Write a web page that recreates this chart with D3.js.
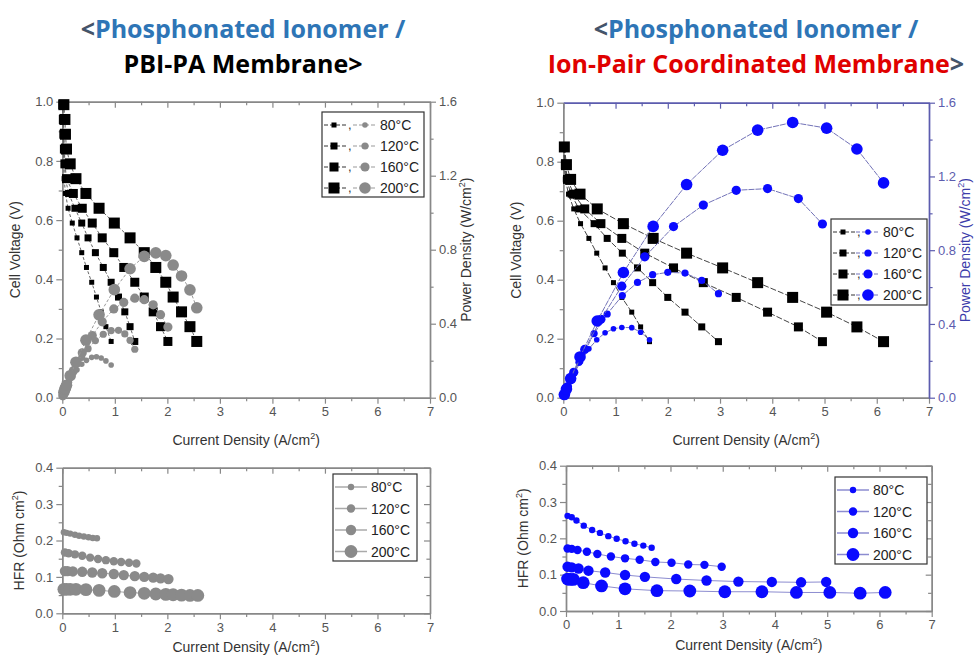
<!DOCTYPE html>
<html>
<head>
<meta charset="utf-8">
<script src="https://cdn.jsdelivr.net/npm/d3@7"></script>
<style>
  body { margin: 0; background: #fff; }
  svg { display: block; font-family: "Liberation Sans", Arial, sans-serif; }
</style>
</head>
<body>
<svg id="chart" width="975" height="655"></svg>
<script>
// ---- data ----
var temps = ['80°C', '120°C', '160°C', '200°C'];

// PBI-PA membrane, polarisation + power density
var pbiV = [0.99, 0.94, 0.89, 0.84, 0.79, 0.74, 0.69, 0.64, 0.59, 0.54, 0.49, 0.44, 0.39, 0.34, 0.29, 0.24, 0.19];
var pbiI80 = [0.005, 0.01, 0.015, 0.02, 0.025, 0.035, 0.06, 0.11, 0.19, 0.28, 0.37, 0.46, 0.56, 0.65, 0.74, 0.83, 0.93];
var pbiI120 = [0.008, 0.015, 0.02, 0.03, 0.04, 0.06, 0.12, 0.24, 0.37, 0.49, 0.63, 0.78, 0.93, 1.07, 1.19, 1.29, 1.38];
var pbiI160 = [0.01, 0.02, 0.03, 0.04, 0.05, 0.08, 0.21, 0.38, 0.57, 0.76, 0.98, 1.17, 1.38, 1.56, 1.73, 1.87, 2.01];
var pbiI200 = [0.03, 0.05, 0.06, 0.08, 0.15, 0.26, 0.45, 0.70, 0.99, 1.29, 1.56, 1.78, 1.97, 2.11, 2.27, 2.43, 2.56];
var pbiP80 = [0.005, 0.009, 0.013, 0.017, 0.020, 0.026, 0.041, 0.070, 0.112, 0.151, 0.181, 0.202, 0.218, 0.221, 0.215, 0.199, 0.177];
var pbiP120 = [0.008, 0.014, 0.018, 0.025, 0.032, 0.044, 0.083, 0.154, 0.218, 0.265, 0.309, 0.343, 0.363, 0.364, 0.345, 0.310, 0.262];
var pbiP160 = [0.010, 0.019, 0.027, 0.034, 0.040, 0.059, 0.145, 0.243, 0.336, 0.410, 0.480, 0.515, 0.538, 0.530, 0.502, 0.449, 0.382];
var pbiP200 = [0.030, 0.047, 0.053, 0.067, 0.119, 0.192, 0.311, 0.448, 0.584, 0.697, 0.764, 0.783, 0.768, 0.717, 0.658, 0.583, 0.486];

// ion-pair coordinated membrane
var ipV = [0.85, 0.79, 0.74, 0.69, 0.64, 0.59, 0.54, 0.49, 0.44, 0.39, 0.34, 0.29, 0.24, 0.19];
var ipI80 = [0.01, 0.02, 0.04, 0.1, 0.2, 0.33, 0.49, 0.64, 0.8, 0.96, 1.12, 1.31, 1.48, 1.65];
var ipI120 = [0.01, 0.03, 0.06, 0.15, 0.3, 0.59, 0.84, 1.13, 1.42, 1.71, 2.0, 2.33, 2.65, 2.97];
var ipI160 = [0.02, 0.04, 0.08, 0.2, 0.41, 0.72, 1.12, 1.56, 2.11, 2.68, 3.31, 3.91, 4.5, 4.96];
var ipI200 = [0.02, 0.06, 0.14, 0.32, 0.65, 1.15, 1.72, 2.36, 3.05, 3.72, 4.39, 5.04, 5.62, 6.13];
var ipP80 = [0.009, 0.016, 0.030, 0.069, 0.128, 0.195, 0.265, 0.314, 0.352, 0.374, 0.381, 0.380, 0.355, 0.314];
var ipP120 = [0.009, 0.024, 0.044, 0.104, 0.192, 0.348, 0.454, 0.554, 0.625, 0.667, 0.680, 0.676, 0.636, 0.564];
var ipP160 = [0.017, 0.032, 0.059, 0.138, 0.262, 0.425, 0.605, 0.764, 0.928, 1.045, 1.125, 1.134, 1.080, 0.942];
var ipP200 = [0.017, 0.047, 0.104, 0.221, 0.416, 0.679, 0.929, 1.156, 1.342, 1.451, 1.493, 1.462, 1.349, 1.165];

// HFR
var pbiHfrI80 = [0.03, 0.08, 0.15, 0.24, 0.32, 0.41, 0.5, 0.58, 0.66];
var pbiHfr80 = [0.223, 0.221, 0.219, 0.216, 0.213, 0.211, 0.209, 0.207, 0.206];
var pbiHfrI120 = [0.05, 0.12, 0.24, 0.38, 0.53, 0.68, 0.83, 0.98, 1.12, 1.27, 1.41];
var pbiHfr120 = [0.167, 0.165, 0.162, 0.158, 0.153, 0.149, 0.146, 0.143, 0.141, 0.139, 0.137];
var pbiHfrI160 = [0.05, 0.1, 0.2, 0.38, 0.57, 0.76, 0.98, 1.17, 1.38, 1.56, 1.73, 1.87, 2.02];
var pbiHfr160 = [0.116, 0.116, 0.115, 0.114, 0.112, 0.110, 0.108, 0.105, 0.102, 0.100, 0.098, 0.096, 0.094];
var pbiHfrI200 = [0.03, 0.08, 0.15, 0.26, 0.45, 0.70, 0.99, 1.29, 1.56, 1.78, 1.97, 2.11, 2.27, 2.43, 2.58];
var pbiHfr200 = [0.066, 0.066, 0.066, 0.066, 0.065, 0.063, 0.060, 0.057, 0.055, 0.053, 0.052, 0.051, 0.050, 0.049, 0.049];

var ipHfrI80 = [0.03, 0.11, 0.2, 0.34, 0.5, 0.65, 0.81, 0.97, 1.14, 1.31, 1.48, 1.64];
var ipHfr80 = [0.262, 0.258, 0.249, 0.235, 0.223, 0.215, 0.206, 0.199, 0.192, 0.185, 0.180, 0.174];
var ipHfrI120 = [0.03, 0.11, 0.22, 0.40, 0.60, 0.86, 1.13, 1.41, 1.71, 2.02, 2.34, 2.65, 2.98];
var ipHfr120 = [0.172, 0.171, 0.168, 0.163, 0.157, 0.150, 0.145, 0.141, 0.135, 0.133, 0.128, 0.127, 0.122];
var ipHfrI160 = [0.03, 0.11, 0.24, 0.43, 0.75, 1.13, 1.51, 2.11, 2.69, 3.3, 3.94, 4.5, 4.98];
var ipHfr160 = [0.122, 0.120, 0.117, 0.111, 0.106, 0.099, 0.094, 0.088, 0.084, 0.081, 0.080, 0.079, 0.080];
var ipHfrI200 = [0.03, 0.08, 0.14, 0.33, 0.68, 1.13, 1.74, 2.37, 3.04, 3.75, 4.41, 5.05, 5.63, 6.11];
var ipHfr200 = [0.088, 0.087, 0.087, 0.078, 0.069, 0.061, 0.056, 0.055, 0.053, 0.053, 0.051, 0.051, 0.049, 0.051];

var xTicks = [0, 1, 2, 3, 4, 5, 6, 7];
var xMinor = [0.5, 1.5, 2.5, 3.5, 4.5, 5.5, 6.5];
var vTicks = [0, 0.2, 0.4, 0.6, 0.8, 1.0];
var vMinor = [0.1, 0.3, 0.5, 0.7, 0.9];
var pTicks = [0, 0.4, 0.8, 1.2, 1.6];
var pMinor = [0.2, 0.6, 1.0, 1.4];
var hTicks = [0, 0.1, 0.2, 0.3, 0.4];
var hMinor = [0.05, 0.15, 0.25, 0.35];

var svg = d3.select('#chart');
var sqSize = [5, 7, 9, 11];
var cirR = [2.8, 3.6, 4.6, 5.8];
var hfrR = [3.2, 4.2, 5.2, 6.4];
var f1 = d3.format('.1f');

function zip(xs, ys) {
  return xs.map(function(d, i) { return [d, ys[i]]; });
}

function axis(g, gen, tx, ty, major, minor, fmt, size, color) {
  var a = g.append('g').attr('transform', 'translate(' + tx + ',' + ty + ')')
    .call(gen.tickValues(major).tickSize(size).tickSizeOuter(0).tickFormat(fmt || ''));
  var b = g.append('g').attr('transform', 'translate(' + tx + ',' + ty + ')')
    .call(gen.tickValues(minor).tickSize(size * 0.6).tickSizeOuter(0).tickFormat(''));
  [a, b].forEach(function(s) {
    s.select('.domain').attr('stroke', color).attr('stroke-width', 1.4);
    s.selectAll('.tick line').attr('stroke', color).attr('stroke-width', 1.2);
    s.selectAll('.tick text').attr('fill', color === '#888' ? '#555' : color)
      .attr('font-size', 13).attr('font-family', '"Liberation Sans", Arial, sans-serif');
  });
  return a;
}

function axisTitle(g, x, y, rot, text, sup, after, color) {
  var t = g.append('text').attr('transform', 'translate(' + x + ',' + y + ')' + (rot ? ' rotate(-90)' : ''))
    .attr('text-anchor', 'middle').attr('font-size', 14).attr('fill', color || '#333');
  t.append('tspan').text(text);
  t.append('tspan').attr('font-size', 9).attr('dy', -6).text(sup);
  t.append('tspan').attr('dy', 6).text(after);
}

function squares(g, pts, size, line) {
  g.append('path').datum(pts).attr('fill', 'none').attr('stroke', line.color)
    .attr('stroke-width', 1).attr('stroke-dasharray', line.dash)
    .attr('d', d3.line().x(function(d) { return line.x(d[0]); }).y(function(d) { return line.y(d[1]); }));
  g.selectAll(null).data(pts).enter().append('rect')
    .attr('x', function(d) { return line.x(d[0]) - size / 2; })
    .attr('y', function(d) { return line.y(d[1]) - size / 2; })
    .attr('width', size).attr('height', size).attr('fill', '#000');
}

function circles(g, pts, r, line) {
  g.append('path').datum(pts).attr('fill', 'none').attr('stroke', line.color)
    .attr('stroke-width', 1).attr('stroke-dasharray', line.dash)
    .attr('d', d3.line().x(function(d) { return line.x(d[0]); }).y(function(d) { return line.y(d[1]); }));
  g.selectAll(null).data(pts).enter().append('circle')
    .attr('cx', function(d) { return line.x(d[0]); })
    .attr('cy', function(d) { return line.y(d[1]); })
    .attr('r', r).attr('fill', line.fill);
}

function polar(o) {
  var g = svg.append('g');
  var x = d3.scaleLinear().domain([0, 7]).range([o.left, o.right]);
  var y = d3.scaleLinear().domain([0, 1]).range([o.bottom, o.top]);
  var y2 = d3.scaleLinear().domain([0, 1.6]).range([o.bottom, o.top]);

  axis(g, d3.axisBottom(x), 0, o.bottom, xTicks, xMinor, d3.format('d'), 6, '#888');
  axis(g, d3.axisTop(x), 0, o.top, xTicks, xMinor, null, -6, o.axis2);
  axis(g, d3.axisLeft(y), o.left, 0, vTicks, vMinor, f1, 6, '#888');
  axis(g, d3.axisRight(y2), o.right, 0, pTicks, pMinor, f1, 6, o.axis2);

  var plot = g.append('g');
  o.curr.forEach(function(I, k) {
    squares(plot, zip(I, o.volt), sqSize[k], { x: x, y: y, color: o.vLine, dash: o.vDash });
  });
  o.curr.forEach(function(I, k) {
    circles(plot, zip(I, o.pow[k]), cirR[k], { x: x, y: y2, color: o.pLine, dash: o.pDash, fill: o.pFill });
  });

  axisTitle(g, o.left - 42, (o.top + o.bottom) / 2, true, 'Cell Voltage (V)', '', '');
  axisTitle(g, (o.left + o.right) / 2, o.bottom + 47, false, 'Current Density (A/cm', '2', ')');
  axisTitle(g, o.right + 41, (o.top + o.bottom) / 2, true, 'Power Density (W/cm', '2', ')', o.title2);

  // legend
  var L = o.legend;
  g.append('rect').attr('x', L.x).attr('y', L.y).attr('width', L.w).attr('height', L.h)
    .attr('fill', '#fff').attr('stroke', '#333').attr('stroke-width', 1.2);
  temps.forEach(function(t, k) {
    var yy = L.y + 13 + k * 21;
    var r = g.append('g').attr('transform', 'translate(' + L.x + ',' + yy + ')');
    r.append('line').attr('x1', 2).attr('x2', 24).attr('stroke', '#333').attr('stroke-dasharray', '4,2');
    r.append('rect').attr('x', 12 - sqSize[k] / 2).attr('y', -sqSize[k] / 2)
      .attr('width', sqSize[k]).attr('height', sqSize[k]).attr('fill', '#000');
    r.append('text').attr('x', 26).attr('y', 4).attr('font-size', 13).attr('fill', '#333').text(',');
    r.append('line').attr('x1', L.c0).attr('x2', L.c0 + 24).attr('stroke', o.pLine).attr('stroke-dasharray', '4,2');
    r.append('circle').attr('cx', L.c0 + 12).attr('r', cirR[k]).attr('fill', o.pFill);
    r.append('text').attr('x', L.tx).attr('y', 5).attr('font-size', 14).attr('fill', '#222').text(t);
  });
}

function hfr(o) {
  var g = svg.append('g');
  var x = d3.scaleLinear().domain([0, 7]).range([o.left, o.right]);
  var y = d3.scaleLinear().domain([0, 0.4]).range([o.bottom, o.top]);

  axis(g, d3.axisBottom(x), 0, o.bottom, xTicks, xMinor, d3.format('d'), 6, '#888');
  axis(g, d3.axisTop(x), 0, o.top, xTicks, xMinor, null, -6, '#888');
  axis(g, d3.axisLeft(y), o.left, 0, hTicks, hMinor, f1, 6, '#888');
  axis(g, d3.axisRight(y), o.right, 0, hTicks, hMinor, null, -6, '#888');

  var plot = g.append('g');
  o.curr.forEach(function(I, k) {
    circles(plot, zip(I, o.vals[k]), hfrR[k], { x: x, y: y, color: o.line, dash: null, fill: o.fill });
  });

  axisTitle(g, o.left - 38, (o.top + o.bottom) / 2, true, 'HFR (Ohm cm', '2', ')');
  axisTitle(g, (o.left + o.right) / 2, o.bottom + 39, false, 'Current Density (A/cm', '2', ')');

  var L = o.legend;
  g.append('rect').attr('x', L.x).attr('y', L.y).attr('width', L.w).attr('height', L.h)
    .attr('fill', '#fff').attr('stroke', '#333').attr('stroke-width', 1.2);
  temps.forEach(function(t, k) {
    var yy = L.y + 13 + k * 21.5;
    var r = g.append('g').attr('transform', 'translate(' + L.x + ',' + yy + ')');
    r.append('line').attr('x1', 2).attr('x2', 34).attr('stroke', o.line).attr('stroke-width', 1.5);
    r.append('circle').attr('cx', 18).attr('r', hfrR[k]).attr('fill', o.fill);
    r.append('text').attr('x', L.tx).attr('y', 5).attr('font-size', 14).attr('fill', '#222').text(t);
  });
}

polar({
  left: 62.3, right: 430, top: 101.7, bottom: 397.7,
  volt: pbiV, curr: [pbiI80, pbiI120, pbiI160, pbiI200], pow: [pbiP80, pbiP120, pbiP160, pbiP200],
  vLine: '#666', vDash: '3,2', pLine: '#999', pDash: '3,2', pFill: '#8a8a8a',
  axis2: '#888', title2: '#333',
  legend: { x: 322, y: 112, w: 102, h: 85, c0: 31, tx: 58 }
});

polar({
  left: 563.3, right: 929, top: 102.7, bottom: 397.7,
  volt: ipV, curr: [ipI80, ipI120, ipI160, ipI200], pow: [ipP80, ipP120, ipP160, ipP200],
  vLine: '#444', vDash: '6,2', pLine: '#7373b8', pDash: '6,1', pFill: '#0a0aff',
  axis2: '#5c5cae', title2: '#3c3caa',
  legend: { x: 831, y: 219, w: 96, h: 86, c0: 25, tx: 52 }
});

hfr({
  left: 62.3, right: 430, top: 467.7, bottom: 613.3,
  curr: [pbiHfrI80, pbiHfrI120, pbiHfrI160, pbiHfrI200], vals: [pbiHfr80, pbiHfr120, pbiHfr160, pbiHfr200],
  line: '#aaa', fill: '#8a8a8a',
  legend: { x: 333, y: 474, w: 84, h: 87, tx: 38 }
});

hfr({
  left: 566, right: 931.7, top: 465.7, bottom: 611,
  curr: [ipHfrI80, ipHfrI120, ipHfrI160, ipHfrI200], vals: [ipHfr80, ipHfr120, ipHfr160, ipHfr200],
  line: '#8c8cd0', fill: '#0a0aff',
  legend: { x: 835, y: 477, w: 92, h: 87, tx: 38 }
});

// titles
var titles = [
  { cx: 243, l1: [['<', '#44546a'], ['Phosphonated Ionomer /', '#2e75b6']], l2: [['PBI-PA Membrane>', '#000']] },
  { cx: 756, l1: [['<', '#44546a'], ['Phosphonated Ionomer /', '#2e75b6']], l2: [['Ion-Pair Coordinated Membrane', '#e00000'], ['>', '#44546a']] }
];
titles.forEach(function(t) {
  [[t.l1, 38], [t.l2, 73]].forEach(function(line) {
    var tx = svg.append('text').attr('x', t.cx).attr('y', line[1]).attr('text-anchor', 'middle')
      .attr('font-family', '"Open Sans", sans-serif').attr('font-weight', 700).attr('font-size', 25);
    line[0].forEach(function(p) { tx.append('tspan').attr('fill', p[1]).text(p[0]); });
  });
});
</script>
</body>
</html>
